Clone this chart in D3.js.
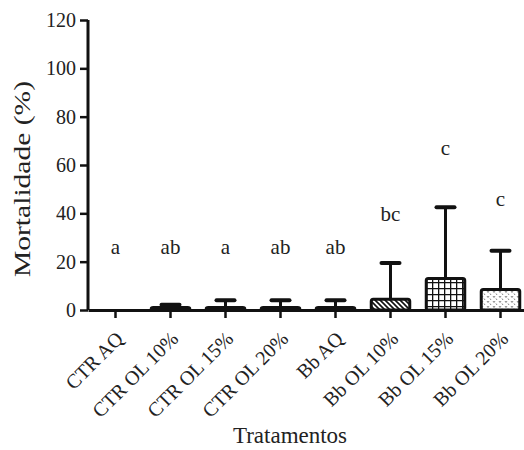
<!DOCTYPE html>
<html>
<head>
<meta charset="utf-8">
<script src="https://cdn.jsdelivr.net/npm/d3@7"></script>
<style>
body { margin: 0; background: #fff; }
text { font-family: "Liberation Serif", "Times New Roman", serif; fill: #222; }
</style>
</head>
<body>
<svg width="524" height="450"></svg>
<script>
// data
const tratamentos = ["CTR AQ", "CTR OL 10%", "CTR OL 15%", "CTR OL 20%", "Bb AQ", "Bb OL 10%", "Bb OL 15%", "Bb OL 20%"];
const mortalidade = [0, 1, 1, 1, 1, 4.5, 13, 8.5];
const desvio = [0, 1.2, 3, 3, 3, 15, 29.5, 16];
const letras = ["a", "ab", "a", "ab", "ab", "bc", "c", "c"];
const letraY = [23, 23, 23, 23, 23, 37, 64, 43];
const padroes = ["solid", "solid", "solid", "solid", "solid", "hatch", "grid", "dots"];
const yTicks = [0, 20, 40, 60, 80, 100, 120];

const svg = d3.select('svg');
const x0 = 88, x1 = 528, yTop = 20, yBot = 310;

let x = d3.scaleBand().domain(tratamentos).range([x0, x1]).paddingInner(0.3).paddingOuter(0.15);
let y = d3.scaleLinear().domain([0, 120]).range([yBot, yTop]);

// patterns
const defs = svg.append('defs');
let p = defs.append('pattern').attr('id', 'hatch').attr('patternUnits', 'userSpaceOnUse')
  .attr('width', 5).attr('height', 5);
p.append('rect').attr('width', 5).attr('height', 5).attr('fill', '#fff');
p.append('path').attr('d', 'M-1,-1 L6,6 M-1,4 L1,6 M4,-1 L6,1').attr('stroke', '#111').attr('stroke-width', 1.6);

p = defs.append('pattern').attr('id', 'grid').attr('patternUnits', 'userSpaceOnUse')
  .attr('width', 6).attr('height', 6);
p.append('rect').attr('width', 6).attr('height', 6).attr('fill', '#fff');
p.append('path').attr('d', 'M0,0.5 H6 M0.5,0 V6').attr('stroke', '#111').attr('stroke-width', 1.6);

p = defs.append('pattern').attr('id', 'dots').attr('patternUnits', 'userSpaceOnUse')
  .attr('width', 6).attr('height', 5);
p.append('rect').attr('width', 6).attr('height', 5).attr('fill', '#fff');
p.append('path').attr('d', 'M1,1 L2,2.5 L3,1 M4,3.5 L5,5').attr('stroke', '#666').attr('stroke-width', 0.8).attr('fill', 'none');

function fillFor(t) {
  if (t == "hatch") return 'url(#hatch)';
  else if (t == "grid") return 'url(#grid)';
  else if (t == "dots") return 'url(#dots)';
  return '#111';
}

// error bars
const idx = d3.range(tratamentos.length).filter(i => mortalidade[i] + desvio[i] > 0);
svg.selectAll('line.err').data(idx).enter().append('line')
  .attr('x1', i => x(tratamentos[i]) + x.bandwidth() / 2)
  .attr('x2', i => x(tratamentos[i]) + x.bandwidth() / 2)
  .attr('y1', i => y(mortalidade[i]))
  .attr('y2', i => y(mortalidade[i] + desvio[i]))
  .attr('stroke', '#111').attr('stroke-width', 3);
svg.selectAll('line.cap').data(idx).enter().append('line')
  .attr('x1', i => x(tratamentos[i]) + x.bandwidth() / 2 - 9)
  .attr('x2', i => x(tratamentos[i]) + x.bandwidth() / 2 + 9)
  .attr('y1', i => y(mortalidade[i] + desvio[i]))
  .attr('y2', i => y(mortalidade[i] + desvio[i]))
  .attr('stroke', '#111').attr('stroke-width', 4).attr('stroke-linecap', 'round');

// bars
svg.selectAll('rect.bar').data(idx).enter().append('rect')
  .attr('x', i => x(tratamentos[i]))
  .attr('width', x.bandwidth())
  .attr('y', i => y(mortalidade[i]))
  .attr('height', i => yBot - y(mortalidade[i]))
  .attr('fill', i => fillFor(padroes[i]))
  .attr('stroke', '#111').attr('stroke-width', 3).attr('rx', 2);

// letters
svg.selectAll('text.letra').data(letras).enter().append('text')
  .attr('x', (d, i) => x(tratamentos[i]) + x.bandwidth() / 2)
  .attr('y', (d, i) => y(letraY[i]))
  .attr('text-anchor', 'middle').style('font-size', '21px')
  .text(d => d);

// axes
let yAxis = svg.append('g').attr('transform', `translate(${x0},0)`)
  .call(d3.axisLeft(y).tickValues(yTicks).tickSize(8).tickPadding(4));
let xAxis = svg.append('g').attr('transform', `translate(0,${yBot})`)
  .call(d3.axisBottom(x).tickSize(8).tickSizeOuter(0));
[yAxis, xAxis].forEach(a => {
  a.attr('font-family', null).attr('font-size', null);
  a.select('.domain').attr('stroke', '#111').attr('stroke-width', 3);
  a.selectAll('.tick line').attr('stroke', '#111').attr('stroke-width', 2.5);
  a.selectAll('text').style('font-size', '20px').attr('fill', '#222')
    .style('font-family', '"Liberation Serif", serif');
});
yAxis.select('.domain').attr('d', `M0,${yTop}V${yBot}`);
xAxis.selectAll('.tick text')
  .attr('text-anchor', 'end')
  .attr('transform', 'translate(4,25) rotate(-45)')
  .attr('dy', '0.35em').attr('y', 0).attr('x', 0);

svg.append('text').attr('transform', 'translate(30,179) rotate(-90)')
  .attr('text-anchor', 'middle').style('font-size', '23px')
  .attr('textLength', 196).attr('lengthAdjust', 'spacingAndGlyphs')
  .text('Mortalidade (%)');
svg.append('text').attr('x', 290).attr('y', 443)
  .attr('text-anchor', 'middle').style('font-size', '23px').text('Tratamentos');
</script>
</body>
</html>
